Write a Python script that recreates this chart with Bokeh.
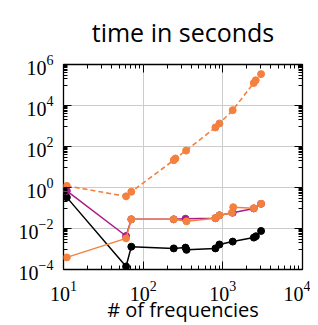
from bokeh.plotting import figure
from bokeh.models import LogAxis, FixedTicker, Range1d, CustomJSTickFormatter
from bokeh.embed import file_html
from bokeh.resources import INLINE

# ---- data ----
x_dashed = [11, 61, 71, 242, 254, 346, 807, 906, 1330, 2443, 2588, 3020]
y_dashed = [1.2, 0.37, 0.62, 21.5, 26, 63, 850, 1330, 5900, 1.25e5, 1.7e5, 3.4e5]

x_black = [11, 61, 71, 242, 340, 350, 807, 906, 1330, 2450, 2600, 3020]
y_black = [0.33, 1.4e-4, 1.3e-3, 1.07e-3, 1.17e-3, 9.1e-4, 1.07e-3, 1.66e-3,
           2.3e-3, 3.6e-3, 4.2e-3, 7.6e-3]

x_magenta = [11, 61, 71, 242, 340, 807, 906, 1330, 2450, 3020]
y_magenta = [0.69, 4.3e-3, 0.028, 0.028, 0.030, 0.032, 0.044, 0.059, 0.095, 0.16]

x_orange = [11, 61, 71, 242, 350, 807, 906, 1300, 1350, 2450, 3020]
y_orange = [3.9e-4, 3.3e-3, 0.028, 0.028, 0.0224, 0.032, 0.044, 0.059, 0.11,
            0.098, 0.16]

x_major = [10, 100, 1000, 10000]
y_major = [1e-4, 1e-2, 1e0, 1e2, 1e4, 1e6]
x_minor = [m * 10 ** k for k in (1, 2, 3) for m in range(2, 10)]
y_minor = [m * 10.0 ** k for k in (-3, -1, 1, 3, 5) for m in range(1, 10)]

title_text = "time in seconds"
xlabel_text = "# of frequencies"

ORANGE = "#f4803f"
MAGENTA = "#a81b8a"
BLACK = "#000000"

p = figure(width=310, height=325, x_axis_type="log", y_axis_type="log",
           x_range=Range1d(10, 1e4), y_range=Range1d(1e-4, 1e6),
           output_backend="svg", toolbar_location=None,
           min_border_left=63, min_border_right=8, min_border_top=62,
           min_border_bottom=54, border_fill_color="white")

p.title.text = title_text
p.title.align = "center"
p.title.vertical_align = "top"
p.title.text_font = "Open Sans"
p.title.text_font_size = "25px"
p.title.text_font_style = "normal"
p.title.text_color = "black"
p.title.standoff = 28

p.outline_line_color = "black"
p.outline_line_width = 1.3
p.outline_line_alpha = 1.0

# grid
p.xgrid.ticker = FixedTicker(ticks=[100, 1000])
p.ygrid.ticker = FixedTicker(ticks=[1e-2, 1e0, 1e2, 1e4])
p.grid.grid_line_color = "#cccccc"
p.grid.grid_line_width = 1

bottom = p.below[0]
left = p.left[0]

# extra axes (ticks only)
top = LogAxis()
right = LogAxis()
p.add_layout(top, "above")
p.add_layout(right, "right")

for ax in (bottom, top):
    ax.ticker = FixedTicker(ticks=x_major, minor_ticks=x_minor)
for ax in (left, right):
    ax.ticker = FixedTicker(ticks=y_major, minor_ticks=y_minor)

for ax in (bottom, left, top, right):
    ax.axis_line_color = None
    ax.major_tick_in = 8
    ax.major_tick_out = 0
    ax.minor_tick_in = 4
    ax.minor_tick_out = 0
    ax.major_tick_line_color = "black"
    ax.minor_tick_line_color = "black"
    ax.major_label_text_font = "Liberation Serif"
    ax.major_label_text_font_size = "20px"
    ax.major_label_text_color = "black"

for ax in (top, right):
    ax.formatter = CustomJSTickFormatter(code="return ''")
    ax.major_label_text_font_size = "0px"
    ax.major_label_standoff = 0

bottom.axis_label = xlabel_text
bottom.axis_label_text_font = "Open Sans"
bottom.axis_label_text_font_size = "20px"
bottom.axis_label_text_font_style = "normal"
bottom.axis_label_text_color = "black"
bottom.major_label_standoff = 11
bottom.axis_label_standoff = -8
left.major_label_standoff = 10

# series
p.line(x_dashed, y_dashed, line_color=ORANGE, line_width=1.6, line_dash="5 3")
p.scatter(x_dashed, y_dashed, size=7, color=ORANGE)

p.line(x_black, y_black, line_color=BLACK, line_width=1.5)
p.scatter(x_black, y_black, size=7, color=BLACK)

p.line(x_magenta, y_magenta, line_color=MAGENTA, line_width=1.5)
p.scatter(x_magenta, y_magenta, size=7, color=MAGENTA)

p.line(x_orange, y_orange, line_color=ORANGE, line_width=1.5)
p.scatter(x_orange, y_orange, size=7, color=ORANGE)

open("out.html", "w").write(file_html(p, INLINE))
